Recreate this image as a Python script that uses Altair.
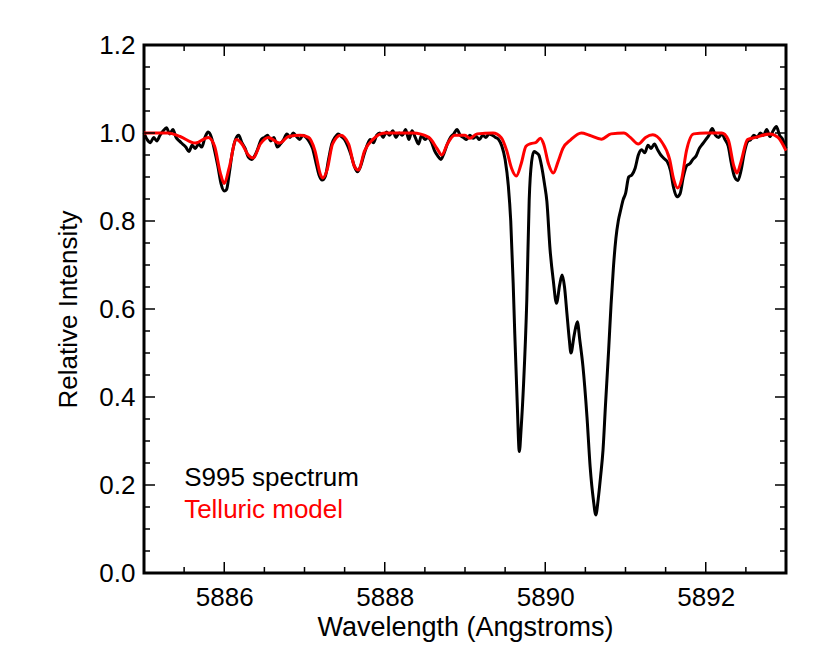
import altair as alt
import pandas as pd

# ---- S995 spectrum (black) ----
spec_lam = [
    5885.00, 5885.04, 5885.08, 5885.12, 5885.16, 5885.20, 5885.24, 5885.28, 5885.32, 5885.36,
    5885.40, 5885.44, 5885.48, 5885.52, 5885.56, 5885.60, 5885.64, 5885.68, 5885.72, 5885.76,
    5885.80, 5885.84, 5885.88, 5885.92, 5885.96, 5886.00, 5886.03, 5886.06, 5886.10, 5886.14,
    5886.18, 5886.22, 5886.26, 5886.30, 5886.34, 5886.38, 5886.42, 5886.46, 5886.50, 5886.54,
    5886.58, 5886.62, 5886.66, 5886.70, 5886.74, 5886.78, 5886.82, 5886.86, 5886.90, 5886.94,
    5886.98, 5887.02, 5887.06, 5887.10, 5887.14, 5887.18, 5887.22, 5887.26, 5887.30, 5887.34,
    5887.38, 5887.42, 5887.46, 5887.50, 5887.54, 5887.58, 5887.62, 5887.66, 5887.70, 5887.74,
    5887.78, 5887.82, 5887.86, 5887.90, 5887.94, 5887.98, 5888.02, 5888.06, 5888.10, 5888.14,
    5888.18, 5888.22, 5888.26, 5888.30, 5888.34, 5888.38, 5888.42, 5888.46, 5888.50, 5888.54,
    5888.58, 5888.62, 5888.66, 5888.70, 5888.74, 5888.78, 5888.82, 5888.86, 5888.90, 5888.94,
    5888.98, 5889.02, 5889.06, 5889.10, 5889.14, 5889.18, 5889.22, 5889.26, 5889.30, 5889.34,
    5889.38, 5889.42, 5889.46, 5889.50, 5889.54, 5889.57, 5889.60, 5889.62, 5889.65, 5889.677,
    5889.70, 5889.73, 5889.77, 5889.80, 5889.83, 5889.86, 5889.89, 5889.92, 5889.955, 5889.99,
    5890.02, 5890.06, 5890.10, 5890.14, 5890.18, 5890.21, 5890.24, 5890.27, 5890.30, 5890.32,
    5890.36, 5890.40, 5890.43, 5890.47, 5890.52, 5890.56, 5890.60, 5890.63, 5890.66, 5890.69,
    5890.72, 5890.75, 5890.79, 5890.82, 5890.85, 5890.88, 5890.91, 5890.94, 5890.97, 5891.00,
    5891.04, 5891.08, 5891.12, 5891.16, 5891.20, 5891.24, 5891.28, 5891.32, 5891.36, 5891.40,
    5891.44, 5891.48, 5891.52, 5891.56, 5891.60, 5891.64, 5891.68, 5891.72, 5891.76, 5891.80,
    5891.84, 5891.88, 5891.92, 5891.96, 5892.00, 5892.04, 5892.08, 5892.12, 5892.16, 5892.20,
    5892.24, 5892.28, 5892.32, 5892.36, 5892.40, 5892.44, 5892.48, 5892.52, 5892.56, 5892.60,
    5892.64, 5892.68, 5892.72, 5892.76, 5892.80, 5892.84, 5892.88, 5892.92, 5892.96, 5893.00,
]
spec_int = [
    1.000, 0.985, 0.978, 0.990, 0.982, 0.995, 1.005, 1.012, 0.998, 1.008,
    0.990, 0.982, 0.975, 0.968, 0.958, 0.972, 0.965, 0.975, 0.968, 0.990,
    1.002, 0.990, 0.960, 0.925, 0.885, 0.868, 0.872, 0.905, 0.955, 0.985,
    0.995, 0.978, 0.965, 0.945, 0.940, 0.948, 0.965, 0.985, 0.990, 0.995,
    0.982, 0.990, 0.968, 0.975, 0.985, 0.998, 0.990, 1.000, 0.992, 0.985,
    0.995, 0.990, 0.980, 0.965, 0.935, 0.905, 0.893, 0.902, 0.940, 0.975,
    0.990, 0.998, 0.992, 0.985, 0.970, 0.950, 0.925, 0.912, 0.925, 0.950,
    0.972, 0.985, 0.978, 0.995, 1.000, 0.990, 1.002, 0.995, 1.005, 0.990,
    1.000, 0.995, 1.008, 0.985, 1.005, 0.990, 0.975, 0.995, 0.985, 0.990,
    0.980, 0.960, 0.948, 0.940, 0.955, 0.975, 0.990, 0.998, 1.008, 0.995,
    0.990, 0.985, 0.995, 0.988, 0.992, 0.985, 0.995, 0.990, 0.998, 0.995,
    0.990, 0.985, 0.970, 0.940, 0.880, 0.800, 0.660, 0.545, 0.390, 0.276,
    0.330, 0.430, 0.620, 0.848, 0.935, 0.958, 0.955, 0.950, 0.924, 0.885,
    0.845, 0.735, 0.665, 0.613, 0.655, 0.677, 0.650, 0.590, 0.530, 0.500,
    0.540, 0.571, 0.530, 0.469, 0.355, 0.240, 0.166, 0.132, 0.168, 0.220,
    0.280, 0.380, 0.507, 0.610, 0.696, 0.760, 0.800, 0.825, 0.848, 0.862,
    0.900, 0.905, 0.920, 0.950, 0.962, 0.955, 0.972, 0.965, 0.975, 0.962,
    0.950, 0.942, 0.935, 0.915, 0.875, 0.855, 0.862, 0.900, 0.925, 0.930,
    0.940, 0.948, 0.965, 0.975, 0.985, 0.995, 1.010, 0.995, 0.990, 0.998,
    0.985, 0.970, 0.930, 0.900, 0.892, 0.915, 0.955, 0.980, 0.985, 0.995,
    0.990, 1.000, 0.995, 1.008, 0.992, 1.005, 1.015, 0.995, 0.985, 0.965,
]

# ---- Telluric model (red) ----
tell_lam = [
    5885.00, 5885.30, 5885.45, 5885.64, 5885.80, 5885.88, 5885.95, 5886.00, 5886.06, 5886.15,
    5886.22, 5886.30, 5886.36, 5886.45, 5886.55, 5886.69, 5886.80, 5886.95, 5887.05, 5887.13,
    5887.20, 5887.23, 5887.28, 5887.35, 5887.45, 5887.55, 5887.62, 5887.67, 5887.75, 5887.85,
    5888.00, 5888.35, 5888.55, 5888.65, 5888.71, 5888.78, 5888.87, 5889.00, 5889.06, 5889.15,
    5889.35, 5889.45, 5889.52, 5889.58, 5889.64, 5889.70, 5889.76, 5889.82, 5889.88, 5889.94,
    5889.98, 5890.04, 5890.10, 5890.16, 5890.22, 5890.32, 5890.45, 5890.55, 5890.70, 5890.82,
    5890.98, 5891.06, 5891.16, 5891.25, 5891.34, 5891.45, 5891.55, 5891.60, 5891.65, 5891.70,
    5891.76, 5891.85, 5892.00, 5892.20, 5892.28, 5892.35, 5892.39, 5892.44, 5892.52, 5892.62,
    5892.80, 5892.90, 5893.00,
]
tell_int = [
    1.000, 1.000, 0.992, 0.977, 0.990, 0.970, 0.910, 0.885, 0.920, 0.985,
    0.975, 0.950, 0.943, 0.975, 0.990, 0.977, 0.992, 0.995, 0.990, 0.960,
    0.905, 0.898, 0.915, 0.975, 0.995, 0.975, 0.925, 0.916, 0.960, 0.985,
    1.000, 1.000, 0.990, 0.965, 0.950, 0.975, 0.995, 0.995, 0.988, 0.998,
    1.000, 0.990, 0.960, 0.920, 0.902, 0.930, 0.970, 0.976, 0.978, 0.988,
    0.975, 0.930, 0.909, 0.935, 0.965, 0.985, 1.000, 0.995, 0.986, 0.998,
    1.000, 0.990, 0.975, 0.990, 0.996, 0.980, 0.940, 0.895, 0.875, 0.895,
    0.960, 0.998, 1.000, 1.000, 0.985, 0.925, 0.909, 0.935, 0.985, 0.990,
    0.998, 0.990, 0.960,
]

# ---- axes / ticks ----
x_major = [5886, 5888, 5890, 5892]
x_minor = [5885.5, 5886.5, 5887, 5887.5, 5888.5, 5889, 5889.5, 5890.5, 5891, 5891.5, 5892.5]
y_major = [0.0, 0.2, 0.4, 0.6, 0.8, 1.0, 1.2]
y_minor = [0.05, 0.1, 0.15, 0.25, 0.3, 0.35, 0.45, 0.5, 0.55, 0.65, 0.7, 0.75,
           0.85, 0.9, 0.95, 1.05, 1.1, 1.15]

# ---- legend text ----
leg_names = ["S995 spectrum", "Telluric model"]
leg_colors = ["black", "red"]
leg_lam = [5885.5, 5885.5]
leg_int = [0.198, 0.125]

W, H = 642, 528
FONT = "Liberation Sans"

xscale = alt.Scale(domain=[5885, 5893], nice=False, zero=False)
yscale = alt.Scale(domain=[0, 1.2], nice=False, zero=False)

xaxis = alt.Axis(values=x_major, format=".0f", title="Wavelength (Angstroms)",
                 grid=False, domain=False, ticks=False, tickSize=0, labelPadding=11,
                 labelFontSize=26, labelFont=FONT, labelColor="black",
                 titleFontSize=27, titleFont=FONT, titleFontWeight="normal", titleColor="black",
                 titleY=62, titleBaseline="alphabetic")
yaxis = alt.Axis(values=y_major, format=".1f", title="Relative Intensity",
                 grid=False, domain=False, ticks=False, tickSize=0, labelPadding=9,
                 labelFontSize=26, labelFont=FONT, labelColor="black",
                 titleFontSize=26, titleFont=FONT, titleFontWeight="normal", titleColor="black",
                 titleX=-68, titleY=H / 2, titleBaseline="alphabetic", titleAlign="center",
                 titleAngle=270)

spec_df = pd.DataFrame({"lam": spec_lam, "inten": spec_int})
tell_df = pd.DataFrame({"lam": tell_lam, "inten": tell_int})

spec_line = alt.Chart(spec_df).mark_line(color="black", strokeWidth=3, interpolate="monotone").encode(
    x=alt.X("lam:Q", scale=xscale, axis=xaxis),
    y=alt.Y("inten:Q", scale=yscale, axis=yaxis),
)
tell_line = alt.Chart(tell_df).mark_line(color="red", strokeWidth=3, interpolate="monotone").encode(
    x=alt.X("lam:Q", scale=xscale, axis=xaxis),
    y=alt.Y("inten:Q", scale=yscale, axis=yaxis),
)


def xticks(vals, length):
    d = pd.DataFrame({"lam": vals})
    bottom = alt.Chart(d).mark_rule(color="black", strokeWidth=1.5).encode(
        x=alt.X("lam:Q", scale=xscale, axis=xaxis), y=alt.value(H), y2=alt.value(H - length))
    top = alt.Chart(d).mark_rule(color="black", strokeWidth=1.5).encode(
        x=alt.X("lam:Q", scale=xscale, axis=xaxis), y=alt.value(0), y2=alt.value(length))
    return [bottom, top]


def yticks(vals, length):
    d = pd.DataFrame({"inten": vals})
    left = alt.Chart(d).mark_rule(color="black", strokeWidth=1.5).encode(
        y=alt.Y("inten:Q", scale=yscale, axis=yaxis), x=alt.value(0), x2=alt.value(length))
    right = alt.Chart(d).mark_rule(color="black", strokeWidth=1.5).encode(
        y=alt.Y("inten:Q", scale=yscale, axis=yaxis), x=alt.value(W), x2=alt.value(W - length))
    return [left, right]


leg_df = pd.DataFrame({"name": leg_names, "lam": leg_lam, "inten": leg_int})
legend = alt.Chart(leg_df).mark_text(align="left", baseline="alphabetic", fontSize=26, font=FONT).encode(
    x=alt.X("lam:Q", scale=xscale, axis=xaxis),
    y=alt.Y("inten:Q", scale=yscale, axis=yaxis),
    text="name:N",
    color=alt.Color("name:N", scale=alt.Scale(domain=leg_names, range=leg_colors), legend=None),
)

layers = [spec_line, tell_line] + xticks(x_major, 11) + xticks(x_minor, 6) \
    + yticks(y_major, 11) + yticks(y_minor, 6) + [legend]

chart = alt.layer(*layers).properties(
    width=W, height=H,
    autosize=alt.AutoSizeParams(type="none"),
    padding={"left": 136, "top": 37, "right": 36, "bottom": 83},
    background="white",
).configure_view(stroke="black", strokeWidth=3)

chart.save("out.html", embed_options={"renderer": "svg", "actions": False})
